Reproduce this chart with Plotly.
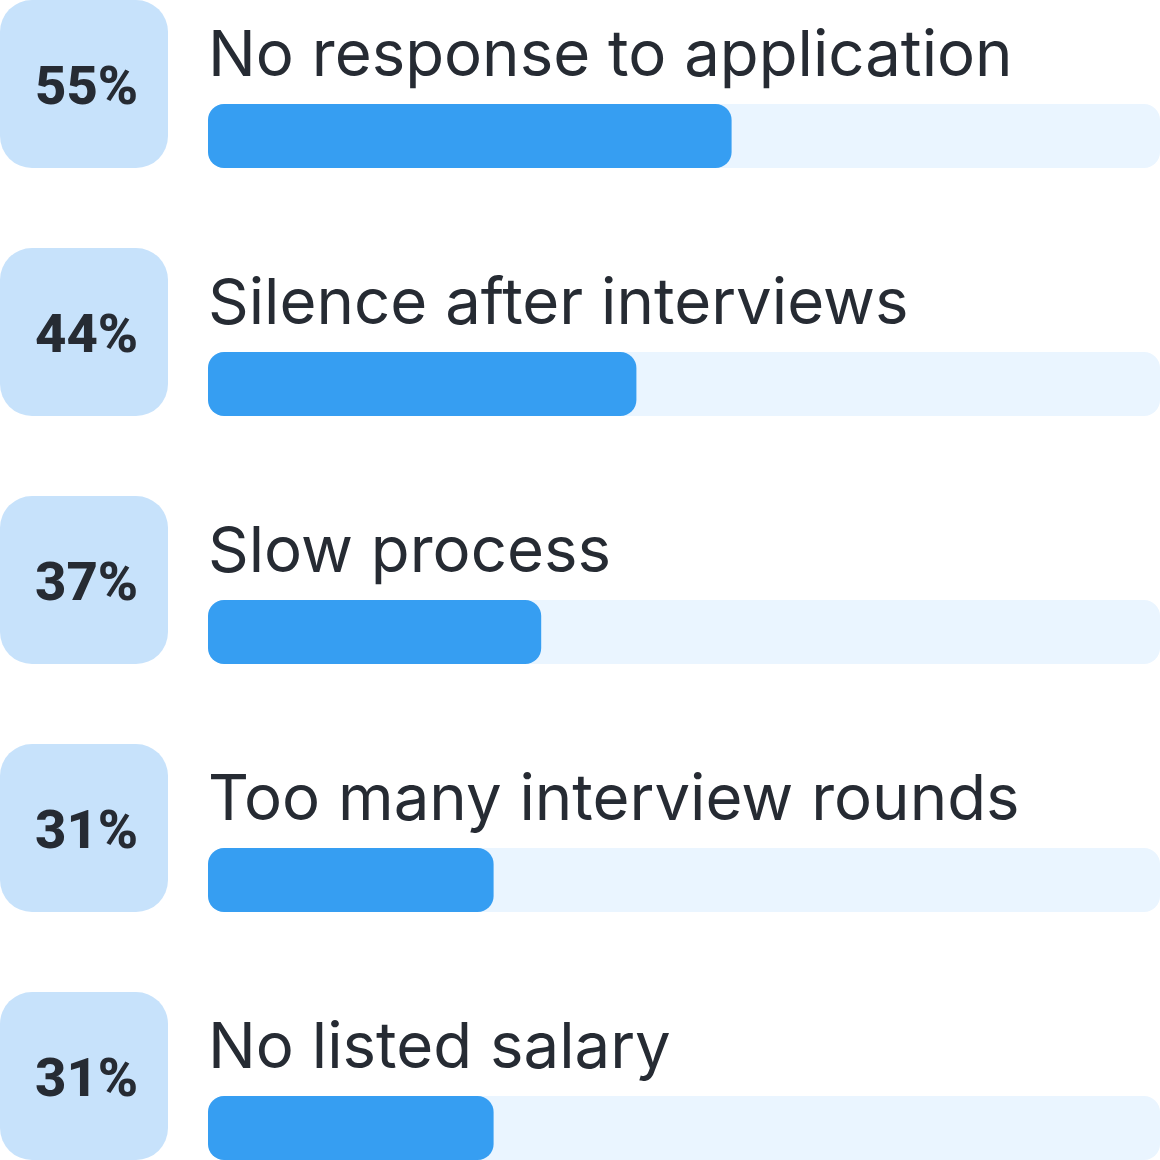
import plotly.graph_objects as go
from plotly.subplots import make_subplots

# Values
categories = ["No response to application", "Silence after interviews", "Slow process",
              "Too many interview rounds", "No listed salary"]
pct_labels = ["55%", "44%", "37%", "31%", "31%"]
bar_values = [55, 45, 35, 30, 30]
track_values = [100, 100, 100, 100, 100]
badge_values = [1, 1, 1, 1, 1]
bases = [0, 0, 0, 0, 0]
rows = [0, 1, 2, 3, 4]

SIZE = 1160
PITCH = 248
TEXT_COLOR = "#262b33"

# one row of the y axes is one PITCH of pixels, each axis centred on what it holds
def row_range(center_px):
    return [(SIZE - center_px) / PITCH, -center_px / PITCH]

# giving an explicit base makes plotly round both ends of the bar
def add_rounded(values, width, color, radius, col):
    fig.add_trace(go.Bar(
        x=values, base=bases, y=rows, orientation="h", width=width,
        marker={"color": color, "cornerradius": radius, "line": {"width": 0}},
        hoverinfo="skip",
    ), row=1, col=col)

fig = make_subplots(rows=1, cols=2, column_widths=[168, 952], horizontal_spacing=40 / SIZE)

add_rounded(badge_values, 168 / PITCH, "#c7e2fb", 32, 1)
add_rounded(track_values, 64 / PITCH, "#eaf5ff", 16, 2)
add_rounded(bar_values, 64 / PITCH, "#369ef2", 16, 2)

for label, cat, row in zip(pct_labels, categories, rows):
    fig.add_annotation(
        x=0.5, y=row, xref="x", yref="y", text=label, showarrow=False, xshift=2.5, yshift=-1,
        font={"family": "Roboto", "size": 54.5, "color": TEXT_COLOR, "weight": 800},
    )
    fig.add_annotation(
        x=0, y=row, xref="x2", yref="y2", text=cat, showarrow=False,
        xanchor="left", yanchor="middle", xshift=-2, yshift=84,
        font={"family": "Inter", "size": 63.5, "color": TEXT_COLOR},
    )

fig.update_layout(
    width=SIZE, height=SIZE, margin={"l": 0, "r": 0, "t": 0, "b": 0},
    barmode="overlay", showlegend=False,
    paper_bgcolor="white", plot_bgcolor="white",
)
fig.update_xaxes(visible=False)
fig.update_xaxes(range=[0, 1], row=1, col=1)
fig.update_xaxes(range=[0, 100], row=1, col=2)
fig.update_yaxes(visible=False)
fig.update_yaxes(range=row_range(84), row=1, col=1)
fig.update_yaxes(range=row_range(136), row=1, col=2)

fig.write_html("out.html", config={"displayModeBar": False},
               post_script="document.body.style.margin='0';document.documentElement.style.overflow='hidden';")
